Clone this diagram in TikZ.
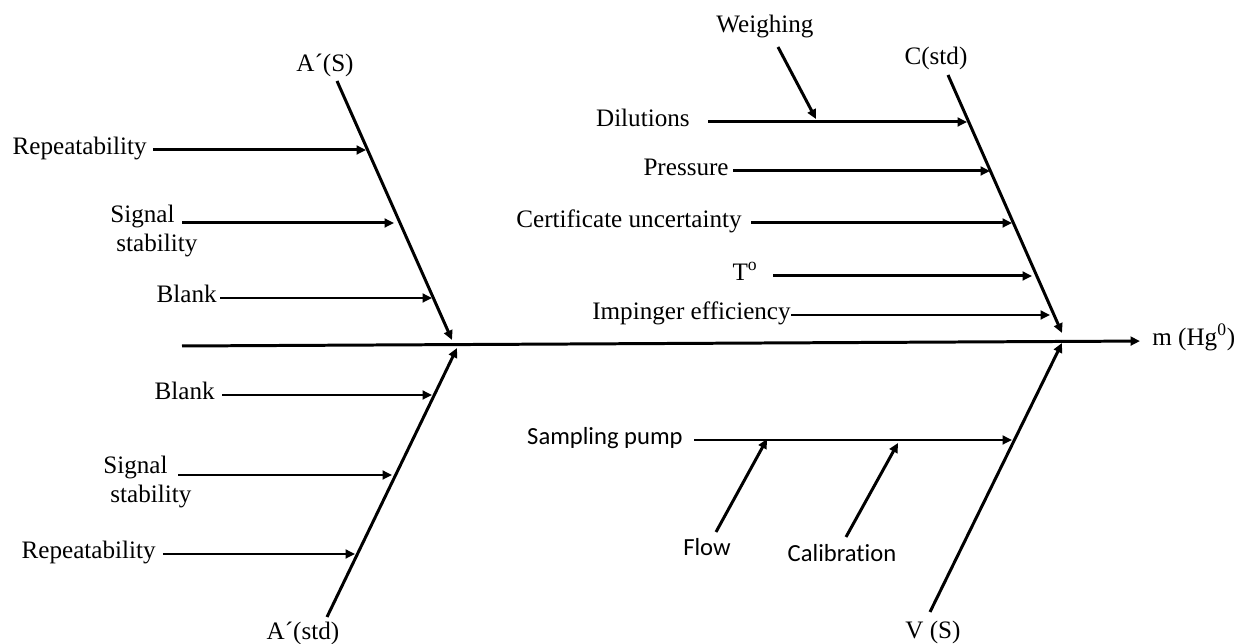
\documentclass[tikz,border=0pt]{standalone}
\usepackage{fontspec}
\setmainfont{Liberation Serif}
\newfontfamily\calfont[Ligatures=NoCommon]{Carlito}
\usetikzlibrary{arrows.meta}
\begin{document}
\begin{tikzpicture}[x=0.02cm,y=-0.02cm,
  arr/.style={line width=1.7pt,-{Triangle[length=5.4pt,width=5pt]}},
  lab/.style={inner sep=0pt,font=\fontsize{14.3}{17}\selectfont},
  slab/.style={inner sep=0pt,font=\calfont\fontsize{14}{17}\selectfont}]
\useasboundingbox (0,0) rectangle (1235,644);

% main spine
\coordinate (sp0) at (182,346);
\node[lab,anchor=mid west] (m) at (1152,341) {m (Hg\textsuperscript{0})};
\draw[arr,shorten >=0.24cm] (sp0) -- (m.mid west);

% upper-left bone A'(S)
\node[lab] (A1) at (325,65) {A´(S)};
\coordinate (a1t) at (337,81);
\coordinate (a1b) at (452,340);
\draw[arr] (a1t) -- (a1b);
\node[lab,anchor=mid east] (ul1) at (147,150) {Repeatability};
\coordinate (ul1e) at (366,150);
\draw[arr,shorten <=0.12cm] (ul1.mid east) -- (ul1e);
\node[lab,anchor=west,align=left] (ul2) at (110,231) {Signal\\\hspace*{0.12cm}stability};
\coordinate (ul2s) at (182,223);
\coordinate (ul2e) at (394,223);
\draw[arr] (ul2s) -- (ul2e);
\node[lab,anchor=mid east] (ul3) at (217,298) {Blank};
\coordinate (ul3e) at (432,298);
\draw[arr,shorten <=0.06cm] (ul3.mid east) -- (ul3e);

% lower-left bone A'(std)
\node[lab] (A2) at (303,633) {A´(std)};
\coordinate (a2b) at (327,617);
\coordinate (a2t) at (457,348);
\draw[arr] (a2b) -- (a2t);
\node[lab,anchor=mid east] (ll1) at (215,395) {Blank};
\coordinate (ll1e) at (432,395);
\draw[arr,shorten <=0.14cm] (ll1.mid east) -- (ll1e);
\node[lab,anchor=west,align=left] (ll2) at (103,482) {Signal\\\hspace*{0.14cm}stability};
\coordinate (ll2s) at (178,475);
\coordinate (ll2e) at (392,475);
\draw[arr] (ll2s) -- (ll2e);
\node[lab,anchor=mid east] (ll3) at (156,554) {Repeatability};
\coordinate (ll3e) at (355,554);
\draw[arr,shorten <=0.14cm] (ll3.mid east) -- (ll3e);

% upper-right bone C(std)
\node[lab] (C) at (936,58) {C(std)};
\coordinate (ct) at (948,75);
\coordinate (cb) at (1062,333);
\draw[arr] (ct) -- (cb);
\node[lab,anchor=mid east] (r1) at (690,122) {Dilutions};
\coordinate (r1e) at (967,122);
\draw[arr,shorten <=0.36cm] (r1.mid east) -- (r1e);
\node[lab] (W) at (765,27) {Weighing};
\coordinate (ws) at (778,47);
\coordinate (we) at (816,119);
\draw[arr] (ws) -- (we);
\node[lab,anchor=mid east] (r2) at (729,171) {Pressure};
\coordinate (r2e) at (990,171);
\draw[arr,shorten <=0.08cm] (r2.mid east) -- (r2e);
\node[lab,anchor=mid east] (r3) at (742,223) {Certificate uncertainty};
\coordinate (r3e) at (1012,223);
\draw[arr,shorten <=0.18cm] (r3.mid east) -- (r3e);
\node[lab,anchor=mid east] (r4) at (758,276) {T\textsuperscript{o}};
\coordinate (r4e) at (1032,276);
\draw[arr,shorten <=0.3cm] (r4.mid east) -- (r4e);
\node[lab,anchor=mid east] (r5) at (791,315) {Impinger efficiency};
\coordinate (r5e) at (1050,315);
\draw[arr] (r5.mid east) -- (r5e);

% lower-right bone V(S)
\node[lab] (V) at (933,632) {V (S)};
\coordinate (vb) at (930,612);
\coordinate (vt) at (1062,343);
\draw[arr] (vb) -- (vt);
\node[slab,anchor=mid east] (s1) at (683,440) {Sampling pump};
\coordinate (s1e) at (1012,440);
\draw[arr,shorten <=0.22cm] (s1.mid east) -- (s1e);
\node[slab] (F) at (707,547) {Flow};
\coordinate (fs) at (716,532);
\coordinate (fe) at (767,439);
\draw[arr] (fs) -- (fe);
\node[slab] (Cal) at (842,553) {Calibration};
\coordinate (cs) at (846,537);
\coordinate (ce) at (898,443);
\draw[arr] (cs) -- (ce);
\end{tikzpicture}
\end{document}
